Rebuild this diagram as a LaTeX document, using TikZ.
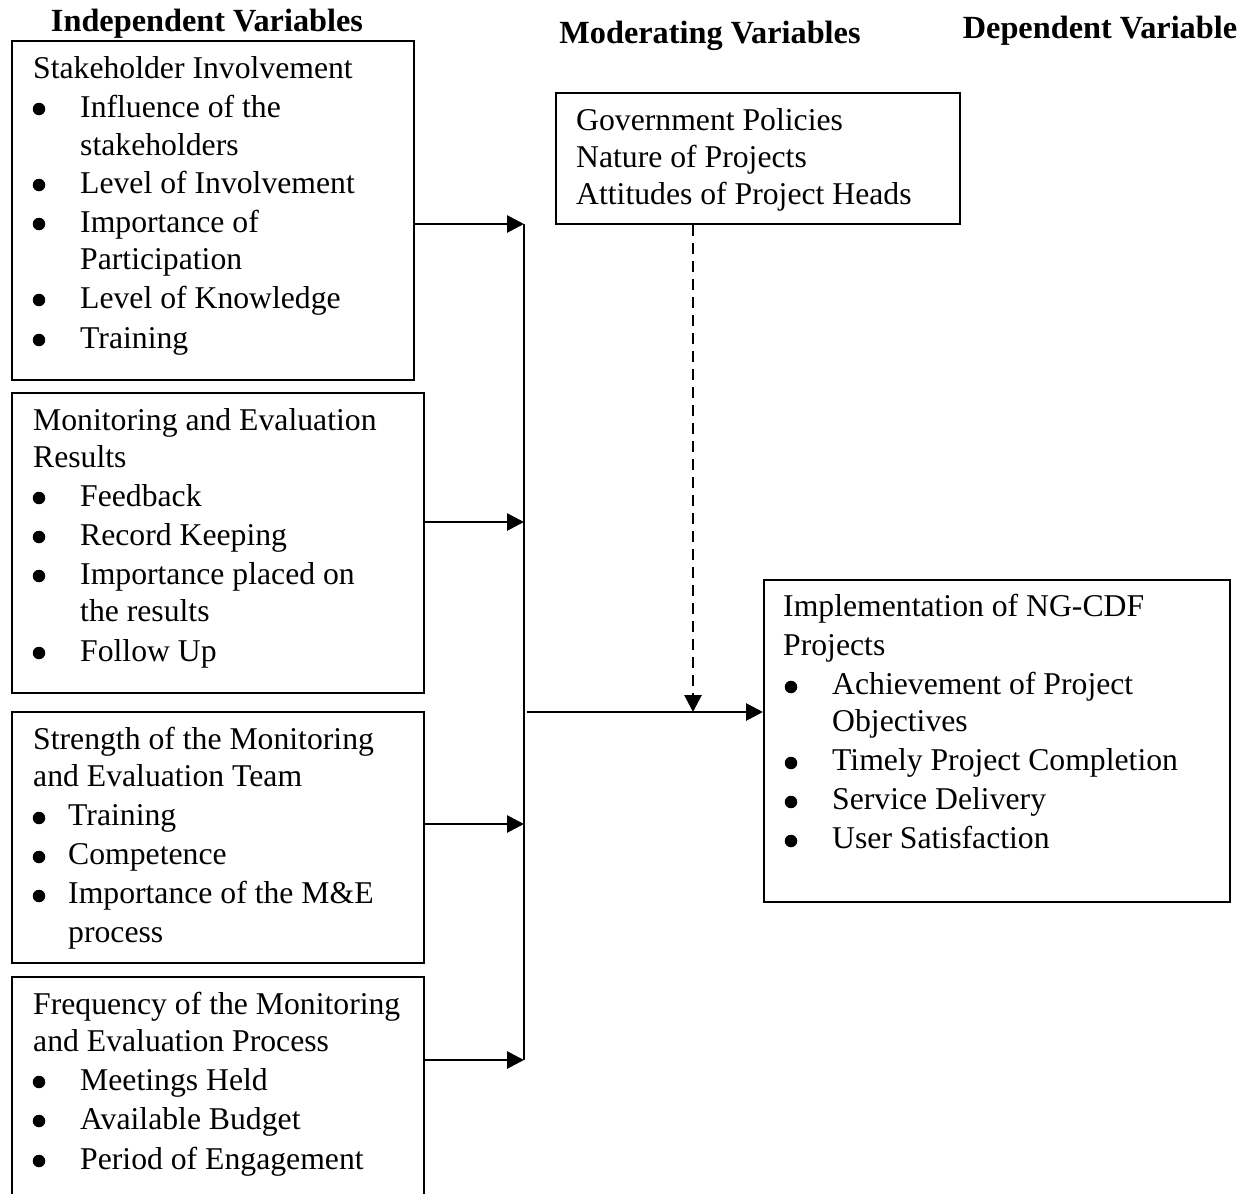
\documentclass[tikz,border=0pt]{standalone}
\usepackage{fontspec}
\setmainfont{Liberation Serif}
\usetikzlibrary{arrows.meta}
\begin{document}
\begin{tikzpicture}[x=1pt,y=-1pt,
  box/.style={draw,line width=2.2pt,anchor=north west,inner sep=0pt},
  txt/.style={anchor=base west,inner sep=0pt,font=\fontsize{31.7}{39}\selectfont},
  head/.style={anchor=base,inner sep=0pt,font=\fontsize{32.3}{39}\selectfont\bfseries},
  dot/.style={circle,fill,inner sep=0pt,minimum size=12.5pt},
  conn/.style={line width=2.8pt,-{Triangle[length=17pt,width=17pt]}},
  plain/.style={line width=2.8pt},
  dconn/.style={line width=2.8pt,dash pattern=on 11pt off 7pt,-{Triangle[length=17pt,width=17pt]}}]
\useasboundingbox (0,0) rectangle (1248,1194);
\clip (0,0) rectangle (1248,1194);
% headings
\node[head] (h1) at (207,31) {Independent Variables};
\node[head] (h2) at (710,43) {Moderating Variables};
\node[head] (h3) at (1100,38) {Dependent Variable};
% boxes
\node[box,minimum width=402pt,minimum height=339pt] (b1) at (11,40) {};
\node[box,minimum width=412pt,minimum height=300pt] (b2) at (11,392) {};
\node[box,minimum width=412pt,minimum height=251pt] (b3) at (11,711) {};
\node[box,minimum width=412pt,minimum height=240pt] (b4) at (11,976) {};
\node[box,minimum width=404pt,minimum height=131pt] (bm) at (555,92) {};
\node[box,minimum width=466pt,minimum height=322pt] (bd) at (763,579) {};
% box 1 text
\node[txt] (t1a) at (33,78) {Stakeholder Involvement};
\node[dot] (u1b) at (39,109) {}; \node[txt] (t1b) at (80,117) {Influence of the};
\node[txt] (t1c) at (80,155) {stakeholders};
\node[dot] (u1d) at (39,185) {}; \node[txt] (t1d) at (80,193) {Level of Involvement};
\node[dot] (u1e) at (39,224) {}; \node[txt] (t1e) at (80,232) {Importance of};
\node[txt] (t1f) at (80,269) {Participation};
\node[dot] (u1g) at (39,300) {}; \node[txt] (t1g) at (80,308) {Level of Knowledge};
\node[dot] (u1h) at (39,340) {}; \node[txt] (t1h) at (80,348) {Training};
% box 2 text
\node[txt] (t2a) at (33,430) {Monitoring and Evaluation};
\node[txt] (t2b) at (33,467) {Results};
\node[dot] (u2c) at (39,498) {}; \node[txt] (t2c) at (80,506) {Feedback};
\node[dot] (u2d) at (39,537) {}; \node[txt] (t2d) at (80,545) {Record Keeping};
\node[dot] (u2e) at (39,576) {}; \node[txt] (t2e) at (80,584) {Importance placed on};
\node[txt] (t2f) at (80,621) {the results};
\node[dot] (u2g) at (39,653) {}; \node[txt] (t2g) at (80,661) {Follow Up};
% box 3 text
\node[txt] (t3a) at (33,749) {Strength of the Monitoring};
\node[txt] (t3b) at (33,786) {and Evaluation Team};
\node[dot] (u3c) at (39,818) {}; \node[txt] (t3c) at (68,825) {Training};
\node[dot] (u3d) at (39,857) {}; \node[txt] (t3d) at (68,864) {Competence};
\node[dot] (u3e) at (39,896) {}; \node[txt] (t3e) at (68,903) {Importance of the M\&E};
\node[txt] (t3f) at (68,942) {process};
% box 4 text
\node[txt] (t4a) at (33,1014) {Frequency of the Monitoring};
\node[txt] (t4b) at (33,1051) {and Evaluation Process};
\node[dot] (u4c) at (39,1082) {}; \node[txt] (t4c) at (80,1090) {Meetings Held};
\node[dot] (u4d) at (39,1121) {}; \node[txt] (t4d) at (80,1129) {Available Budget};
\node[dot] (u4e) at (39,1161) {}; \node[txt] (t4e) at (80,1169) {Period of Engagement};
% moderating text
\node[txt] (tma) at (576,130) {Government Policies};
\node[txt] (tmb) at (576,167) {Nature of Projects};
\node[txt] (tmc) at (576,204) {Attitudes of Project Heads};
% dependent text
\node[txt] (tda) at (783,616) {Implementation of NG-CDF};
\node[txt] (tdb) at (783,655) {Projects};
\node[dot] (udc) at (791,687) {}; \node[txt] (tdc) at (832,694) {Achievement of Project};
\node[txt] (tdd) at (832,731) {Objectives};
\node[dot] (ude) at (791,763) {}; \node[txt] (tde) at (832,770) {Timely Project Completion};
\node[dot] (udf) at (791,802) {}; \node[txt] (tdf) at (832,809) {Service Delivery};
\node[dot] (udg) at (791,841) {}; \node[txt] (tdg) at (832,848) {User Satisfaction};
% junction coordinates
\coordinate (j1) at (524,224);
\coordinate (j2) at (524,522);
\coordinate (j3) at (524,824);
\coordinate (j4) at (524,1060);
\coordinate (jm) at (527,712);
\coordinate (jd) at (693,712);
% connectors
\draw[conn] (b1.east |- j1) -- (j1);
\draw[conn] (b2.east |- j2) -- (j2);
\draw[conn] (b3.east |- j3) -- (j3);
\draw[conn] (b4.east |- j4) -- (j4);
\draw[plain] (j1) -- (j4);
\draw[conn] (jm) -- (bd.west |- jm);
\draw[dconn] (bm.south -| jd) -- (jd);
\end{tikzpicture}
\end{document}
